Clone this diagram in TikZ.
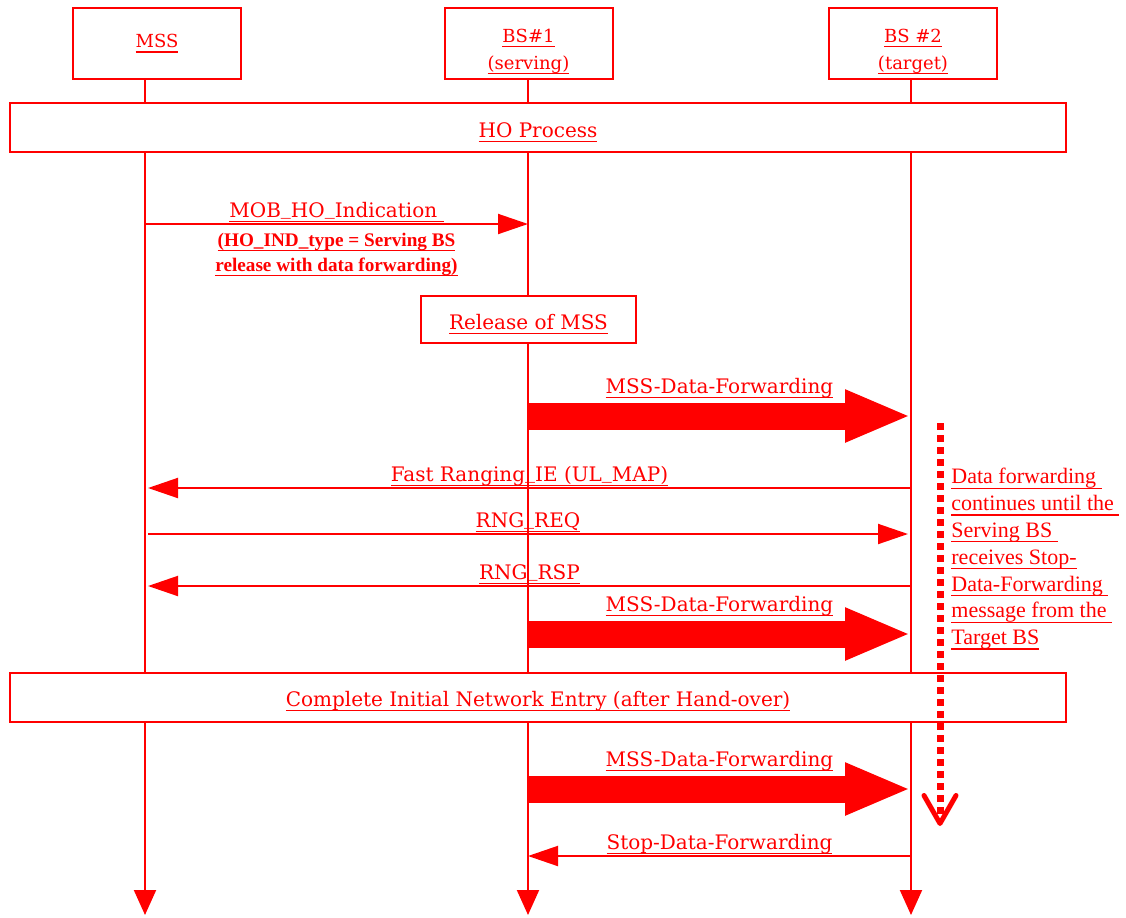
\documentclass[tikz,border=0pt]{standalone}
\usepackage{fontspec}
\setmainfont{DejaVu Serif}
\newfontfamily\notefont{Liberation Serif}
\usetikzlibrary{arrows.meta,positioning}

\definecolor{sigred}{RGB}{255,0,0}

\tikzset{
  every node/.style={text=sigred},
  hdrbox/.style={draw=sigred, line width=1pt, fill=white, align=center,
    minimum width=84pt, minimum height=35.5pt, inner sep=0pt,
    font=\fontsize{9}{13.5}\selectfont},
  hdrtext/.style={inner sep=0pt, align=center, font=\fontsize{9}{13.5}\selectfont},
  phasebox/.style={draw=sigred, line width=1pt, fill=white,
    minimum width=528pt, minimum height=24.5pt, inner sep=0pt,
    text height=9.5pt, text depth=0pt,
    font=\fontsize{10}{12}\selectfont},
  lifeline/.style={draw=sigred, line width=1pt, -{Triangle[length=12.5pt,width=11pt]}},
  msg/.style={draw=sigred, line width=1pt, -{Triangle[length=15pt,width=10pt]}},
  fwd/.style={draw=sigred, line width=13.5pt, -{Triangle[length=33pt,width=24pt]}},
  msglabel/.style={inner sep=0pt, outer sep=0pt, anchor=base, yshift=3.25pt,
    font=\fontsize{10}{12}\selectfont},
  sublabel/.style={inner sep=1pt, outer sep=0pt, align=center,
    font=\notefont\bfseries\fontsize{9.6}{12.5}\selectfont},
  notetext/.style={inner sep=0pt, align=left,
    font=\notefont\fontsize{11}{13.4}\selectfont},
  waitline/.style={draw=sigred, line width=3.5pt, dash pattern=on 3.5pt off 2.5pt,
    -{Straight Barb[length=14pt,width=16pt,line width=2.5pt,round]}},
}

% underline at a fixed depth
\newsavebox{\ulbox}
\newcommand{\ul}[1]{\sbox{\ulbox}{#1}\rlap{\rule[-2.4pt]{\wd\ulbox}{0.55pt}}\usebox{\ulbox}}
\newcommand{\us}{\raisebox{1.3pt}{\_}}

\begin{document}
\begin{tikzpicture}[x=0.5pt,y=-0.5pt]
  \useasboundingbox (0,0) rectangle (1126,917);

  % lifelines
  \coordinate (mssT) at (145,79);
  \coordinate (bs1T) at (528,79);
  \coordinate (bs2T) at (911,79);
  \coordinate (mssB) at (145,915);
  \coordinate (bs1B) at (528,915);
  \coordinate (bs2B) at (911,915);
  \draw[lifeline] (mssT) -- (mssB);
  \draw[lifeline] (bs1T) -- (bs1B);
  \draw[lifeline] (bs2T) -- (bs2B);

  % entities
  \node[hdrbox] (mss) at (157,43.5) {\ul{MSS}};
  \node[hdrbox] (bs1) at (528.5,43.5) {};
  \node[hdrbox] (bs2) at (913,43.5) {};
  \node[hdrtext] (bs1txt) at ([yshift=-4pt]bs1.center) {\ul{BS\#1}\\\ul{(serving)}};
  \node[hdrtext] (bs2txt) at ([yshift=-4pt]bs2.center) {\ul{BS \#2}\\\ul{(target)}};

  \node[phasebox] (ho) at (538,127.5) {\ul{HO Process}};

  % indication
  \draw[msg] (mssT |- 0,224) -- (bs1T |- 0,224)
    node[midway, msglabel] (mob) {\ul{MOB\us HO\us Indication\ }}
    node[midway, below=3.5pt, sublabel] (mobsub)
      {\ul{(HO\_IND\_type = Serving BS}\\\ul{release with data forwarding)}};

  \node[phasebox, minimum width=107.5pt, minimum height=23.5pt] (rel)
    at (528.5,319.5) {\ul{Release of MSS}};

  % data forwarding
  \foreach \y in {416,634,789}
    \draw[fwd] (bs1T |- 0,\y) -- (bs2T |- 0,\y)
      node[midway, msglabel, yshift=8.25pt] {\ul{MSS-Data-Forwarding}};

  % ranging
  \draw[msg] (bs2T |- 0,488) -- ([xshift=1.5pt]mssT |- 0,488)
    node[midway, msglabel] (fastrng) {\ul{Fast Ranging\us IE (UL\us MAP)}};
  \draw[msg] ([xshift=1.5pt]mssT |- 0,534) -- ([xshift=-1.5pt]bs2T |- 0,534)
    node[midway, msglabel] (rngreq) {\ul{RNG\us REQ}};
  \draw[msg] (bs2T |- 0,586) -- ([xshift=1.5pt]mssT |- 0,586)
    node[midway, msglabel] (rngrsp) {\ul{RNG\us RSP}};

  \node[phasebox, text height=9pt] (entry) at (538,697)
    {\ul{Complete Initial Network Entry (after Hand-over)}};

  \draw[msg] (bs2T |- 0,856) -- (bs1T |- 0,856)
    node[midway, msglabel] (stop) {\ul{Stop-Data-Forwarding}};

  % forwarding period
  \coordinate (waitT) at (940,423);
  \coordinate (waitB) at (940,826);
  \draw[waitline] (waitT) -- (waitB);
  \node[notetext, anchor=north west] (note) at (951,468)
    {\ul{Data forwarding\ }\\
     \ul{continues until the\ }\\
     \ul{Serving BS\ }\\
     \ul{receives Stop-}\\
     \ul{Data-Forwarding\ }\\
     \ul{message from the\ }\\
     \ul{Target BS}};
\end{tikzpicture}
\end{document}
